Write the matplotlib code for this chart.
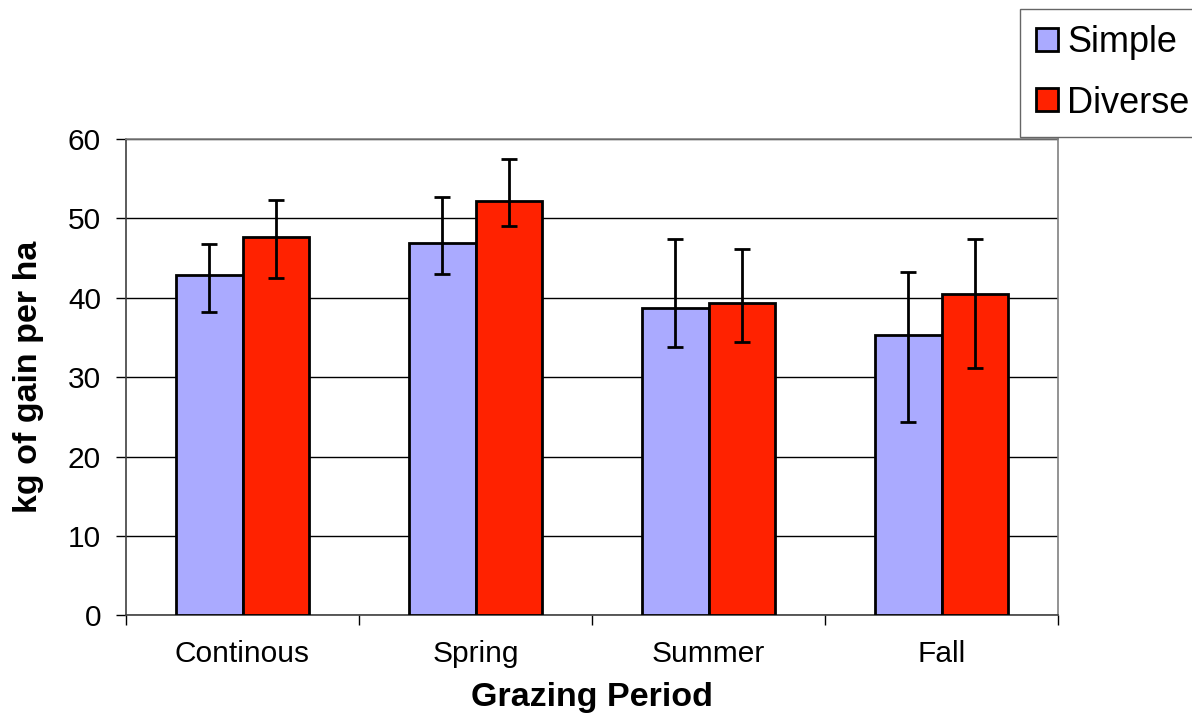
import matplotlib.pyplot as plt
import numpy as np

plt.rcParams['font.family'] = ['Liberation Sans', 'DejaVu Sans']

periods = ["Continous", "Spring", "Summer", "Fall"]
simple = [42.9, 46.9, 38.7, 35.3]
simple_hi = [46.8, 52.7, 47.4, 43.3]
simple_lo = [38.2, 43.0, 33.8, 24.3]
diverse = [47.7, 52.2, 39.4, 40.5]
diverse_hi = [52.3, 57.5, 46.1, 47.4]
diverse_lo = [42.5, 49.1, 34.4, 31.1]

W, H = 1192, 717
fig = plt.figure(figsize=(W / 100, H / 100), dpi=100)
ax = fig.add_axes([126 / W, 1 - 615.4 / H, (1058 - 126) / W, (615.4 - 139) / H])

x = np.arange(len(periods))
bw = 0.287

simple_err = [np.subtract(simple, simple_lo), np.subtract(simple_hi, simple)]
diverse_err = [np.subtract(diverse, diverse_lo), np.subtract(diverse_hi, diverse)]

ax.bar(x - bw / 2, simple, bw, color='#aaaaff', edgecolor='black', linewidth=2.0,
       label='Simple', zorder=3)
ax.bar(x + bw / 2, diverse, bw, color='#ff2200', edgecolor='black', linewidth=2.0,
       label='Diverse', zorder=3)
ax.errorbar(x - bw / 2, simple, yerr=simple_err, fmt='none', ecolor='black',
            elinewidth=2.0, capsize=6, capthick=2.0, zorder=4)
ax.errorbar(x + bw / 2, diverse, yerr=diverse_err, fmt='none', ecolor='black',
            elinewidth=2.0, capsize=6, capthick=2.0, zorder=4)

ax.set_xlim(-0.5, len(periods) - 0.5)
ax.set_ylim(0, 60)
ax.set_yticks(range(0, 61, 10))
ax.yaxis.grid(True, color='black', linewidth=1.0, zorder=0)
ax.set_axisbelow(True)

# category boundary ticks below, labels centered
ax.set_xticks(np.arange(-0.5, len(periods), 1.0))
ax.set_xticklabels([])
ax.set_xticks(x, minor=True)
ax.set_xticklabels(periods, minor=True, fontsize=21.5)
ax.tick_params(axis='x', which='minor', length=0, pad=18)
ax.tick_params(axis='x', which='major', length=7, width=1, direction='out')
ax.tick_params(axis='y', length=7, width=1, direction='out', labelsize=21.5, pad=11)

for side in ['top', 'right']:
    ax.spines[side].set_color('#808080')
    ax.spines[side].set_linewidth(1.2)
for side in ['left', 'bottom']:
    ax.spines[side].set_color('#404040')
    ax.spines[side].set_linewidth(1.2)

ax.set_xlabel('Grazing Period', fontsize=24.5, fontweight='bold', labelpad=10)
ax.set_ylabel('kg of gain per ha', fontsize=24.5, fontweight='bold', labelpad=17)

leg = fig.legend(loc='upper left', bbox_to_anchor=(1020 / W, 1 - 9 / H),
                 fontsize=26, frameon=True, fancybox=False, edgecolor='#404040',
                 handlelength=0.6, handleheight=0.6, handletextpad=0.25,
                 labelspacing=0.7, borderpad=0.45, borderaxespad=0)
leg.get_frame().set_linewidth(1.0)

fig.savefig('out.png', dpi=100)
